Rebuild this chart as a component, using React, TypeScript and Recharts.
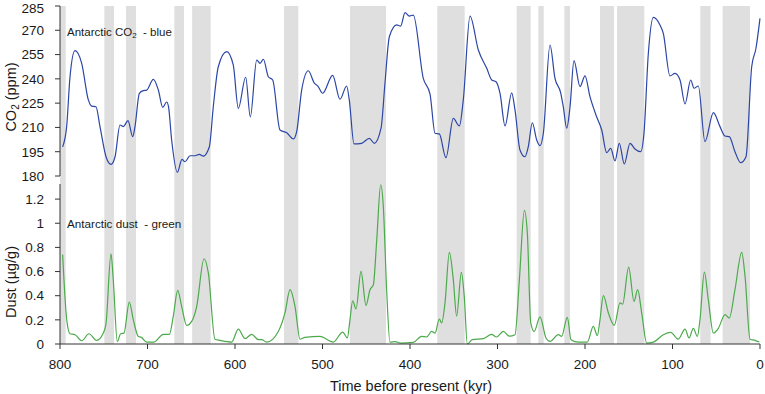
import React from 'react';
import { Line, LineChart, ReferenceArea, XAxis, YAxis } from 'recharts';

// CO2 record (kyr before present, ppm)
const co2Kyr = [
  797, 792.4, 788.6, 782.9, 775.2, 767.6, 763.8, 758.9, 754.3, 747.4, 741.7, 737.1, 731.4, 727.6, 722.3,
  716.9, 714.3, 709.3, 704.8, 701, 693.3, 687.6, 682.6, 678.1, 676, 672.4, 665.9, 660.6, 657.1, 651.4,
  645.7, 640.8, 636.2, 629.3, 624.8, 619.1, 609.5, 602, 596.2, 587.8, 582.5, 575.2, 571.4, 567.6, 561.9,
  556.9, 548.6, 540.9, 533.3, 529.5, 523.8, 516.2, 509.3, 505.5, 499.8, 488.4, 480, 472.4, 469.4, 464,
  455.2, 446.5, 440.8, 433.1, 428.6, 423.6, 415.2, 410.7, 405.7, 400.8, 396.2, 384.8, 377.1, 371.4, 366.5,
  358.9, 350.5, 343.6, 339.1, 331.4, 321.9, 312.3, 306.6, 301.7, 297.1, 291.4, 283.8, 280, 274.3, 268.6,
  264.8, 260.2, 255.2, 251.4, 247.6, 240, 234.3, 227.8, 224.8, 220.9, 217.1, 212.6, 205.7, 200, 194.3,
  186.7, 180.9, 175.2, 170.6, 165.7, 160.8, 155.1, 148.6, 142.9, 136.4, 132.6, 127.6, 121.9, 114.3, 110.5,
  102.9, 97.1, 91.4, 85.7, 79.2, 75.4, 70.5, 62.9, 53.3, 45.7, 40, 35.1, 28.6, 22.1, 16,
  9.5, 4.6, 0,
];
const co2Ppm = [
  198, 210.5, 241, 257.4, 249.6, 227, 223.2, 222.8, 210.5, 191.9, 187.2, 191.9, 211.5, 210.5, 214.2,
  204.3, 210.5, 231.1, 232.7, 233, 239.7, 233.1, 222.4, 225.7, 222.8, 202.2, 182.3, 190.3, 188.8, 192.5,
  192.5, 193.4, 192.3, 198.1, 222.8, 247.5, 256.8, 248.6, 221.8, 241, 216.5, 251.6, 249.6, 252.1, 241.3,
  239.3, 208.4, 206.7, 202.9, 207.4, 233.1, 245, 237.3, 235.7, 231.1, 242.2, 227.4, 235.6, 227, 199.8,
  200.2, 203.3, 200.2, 209.5, 237.3, 266, 273.3, 272.6, 280.9, 278.8, 279.4, 240.3, 230.6, 206.4, 206,
  191.3, 215.6, 210.9, 227, 278.8, 257.8, 246.5, 239.3, 238.2, 231, 210.9, 231.4, 220.8, 196.1, 191.9,
  198.1, 212.9, 202.2, 198.7, 206.4, 260.9, 240.3, 231.4, 222.8, 209.5, 222.8, 251.2, 235.2, 241.8, 229,
  216.6, 208.4, 194.4, 197.1, 189.3, 200.2, 187.4, 200.2, 196.7, 195, 206.4, 255.8, 278, 273.3, 268.1,
  241.8, 243.4, 239.3, 224.5, 239.3, 234.2, 235.6, 201.2, 219.1, 210.5, 204.7, 204.3, 195, 188.2, 191.9,
  247.5, 258.9, 277.4,
];

// dust record (kyr before present, µg/g)
const dustKyr = [
  797, 792.3, 788.6, 782.9, 775.2, 766.9, 758.1, 750.5, 747.4, 741.7, 739.1, 734.5, 730.7, 726.9, 720.8,
  716.2, 710.5, 707, 701, 692.6, 681.9, 675, 670.5, 665.5, 660.9, 655.2, 649.5, 643.8, 635.4, 630.5,
  622.9, 617, 603.8, 596.2, 588.6, 580.9, 573.3, 569.5, 563.8, 550.5, 542.9, 537.1, 531.4, 525.7, 520,
  502.9, 487.6, 476.9, 471.6, 468.6, 465.5, 461.7, 456, 450.3, 445.7, 441.9, 438, 433.5, 430.5, 426.7,
  422.9, 417, 411.4, 396.2, 386.7, 381, 375.2, 371.4, 366.5, 363.8, 360, 355, 350.5, 346.7, 341.3,
  338, 334.5, 328.8, 316.2, 306.7, 301.1, 293.3, 286.5, 280, 275, 269.3, 265.9, 262, 258.1, 251.4,
  244.6, 240, 230.5, 226.7, 220.2, 216, 207.6, 197.3, 190.5, 185.9, 182.9, 179, 173.3, 166.5, 160,
  157, 150.1, 144, 139.8, 135.2, 129.5, 121.9, 110.5, 102.1, 93.3, 85.7, 81.1, 76.2, 71.6, 68.6,
  63.6, 59.1, 53.3, 47.6, 40, 35.1, 28.6, 20.9, 17.1, 11.4, 5.7, 0.8,
];
const dustVal = [
  0.74, 0.2, 0.085, 0.077, 0.027, 0.085, 0.03, 0.091, 0.17, 0.747, 0.53, 0.02, 0.085, 0.09, 0.347,
  0.2, 0.063, 0.055, 0.016, 0.016, 0.08, 0.08, 0.23, 0.444, 0.31, 0.154, 0.187, 0.31, 0.706, 0.59,
  0.04, 0.03, 0.016, 0.124, 0.044, 0.08, 0.036, 0.036, 0.016, 0.104, 0.257, 0.45, 0.31, 0.04, 0.055,
  0.063, 0.016, 0.099, 0.05, 0.2, 0.358, 0.29, 0.601, 0.32, 0.45, 0.49, 0.863, 1.319, 1.14, 0.45,
  0.016, 0.02, 0.008, 0.014, 0.063, 0.058, 0.104, 0.09, 0.207, 0.174, 0.34, 0.758, 0.532, 0.23, 0.593,
  0.394, 0.0, 0.036, 0.044, 0.08, 0.058, 0.104, 0.065, 0.077, 0.532, 1.106, 0.919, 0.174, 0.104, 0.224,
  0.05, 0.022, 0.077, 0.063, 0.22, 0.036, 0.016, 0.016, 0.146, 0.07, 0.2, 0.4, 0.257, 0.154, 0.34,
  0.33, 0.637, 0.353, 0.45, 0.257, 0.008, 0.016, 0.077, 0.096, 0.04, 0.124, 0.05, 0.13, 0.063, 0.2,
  0.596, 0.367, 0.091, 0.13, 0.243, 0.215, 0.45, 0.758, 0.56, 0.04, 0.03, 0.016,
];

// shaded intervals (kyr)
const bandStart = [800, 749.3, 724.6, 669.3, 649, 544, 468.6, 368.8, 278.1, 253.3, 223.6, 182.9, 163.4, 68.2, 42.7];
const bandEnd = [793.5, 738.3, 713.1, 658.3, 627.8, 527.6, 427.4, 337.5, 262.1, 247.2, 217.1, 166.9, 132.2, 56.5, 11.4];

const kyrTicks = [0, 100, 200, 300, 400, 500, 600, 700, 800];
const co2Ticks = [180, 195, 210, 225, 240, 255, 270, 285];
const dustTicks = [0, 0.2, 0.4, 0.6, 0.8, 1, 1.2];

const co2Data = co2Kyr.map((kyr, i) => ({ kyr, co2: co2Ppm[i] }));
const dustData = dustKyr.map((kyr, i) => ({ kyr, dust: dustVal[i] }));

const FONT = '"Liberation Sans", Arial, sans-serif';
const AXIS = '#333';
const BAND = '#dfdfdf';
const tick = { fontSize: 13.5, fill: '#1a1a1a', fontFamily: FONT };

export default function App() {
  return (
    <div style={{ position: 'absolute', left: 0, top: 0, width: 765, height: 394, background: '#fff', fontFamily: FONT }}>
      <div style={{ position: 'absolute', left: 0, top: 0 }}>
        <LineChart width={765} height={192} data={co2Data} margin={{ top: 6, right: 5, bottom: 16, left: 0 }}>
          <XAxis dataKey="kyr" type="number" domain={[0, 800]} reversed hide />
          <YAxis
            domain={[180, 285]}
            ticks={co2Ticks}
            width={60}
            tick={tick}
            tickSize={5}
            tickMargin={11}
            axisLine={{ stroke: AXIS }}
            tickLine={{ stroke: AXIS }}
          />
          {bandStart.map((s, i) => (
            <ReferenceArea
              key={i}
              x1={s}
              x2={bandEnd[i]}
              y1={175}
              y2={285}
              ifOverflow="visible"
              fill={BAND}
              fillOpacity={1}
              stroke="none"
            />
          ))}
          <Line
            type="monotone"
            dataKey="co2"
            stroke="#2c46a6"
            strokeWidth={1.2}
            dot={false}
            isAnimationActive={false}
          />
        </LineChart>
      </div>

      <div style={{ position: 'absolute', left: 0, top: 0 }}>
        <LineChart width={765} height={394} data={dustData} margin={{ top: 184, right: 5, bottom: 0, left: 0 }}>
          <XAxis
            dataKey="kyr"
            type="number"
            domain={[0, 800]}
            reversed
            ticks={kyrTicks}
            height={50}
            tick={tick}
            tickSize={5}
            tickMargin={10}
            axisLine={{ stroke: AXIS }}
            tickLine={{ stroke: AXIS }}
          />
          <YAxis
            domain={[0, 1.325]}
            ticks={dustTicks}
            width={60}
            tick={tick}
            tickSize={5}
            tickMargin={11}
            axisLine={{ stroke: AXIS }}
            tickLine={{ stroke: AXIS }}
          />
          {bandStart.map((s, i) => (
            <ReferenceArea
              key={i}
              x1={s}
              x2={bandEnd[i]}
              y1={0}
              y2={1.325}
              fill={BAND}
              fillOpacity={1}
              stroke="none"
            />
          ))}
          <Line
            type="monotone"
            dataKey="dust"
            stroke="#4caa4c"
            strokeWidth={1.2}
            dot={false}
            isAnimationActive={false}
          />
        </LineChart>
      </div>

      <svg width={765} height={394} style={{ position: 'absolute', left: 0, top: 0, pointerEvents: 'none' }}>
        <g fontFamily={FONT} fill="#1a1a1a">
          <text transform="translate(15.5,97) rotate(-90)" textAnchor="middle" fontSize={14.5}>
            CO<tspan fontSize={10} dy={3}>2</tspan>
            <tspan dy={-3}> (ppm)</tspan>
          </text>
          <text transform="translate(15.5,282) rotate(-90)" textAnchor="middle" fontSize={14.5}>
            Dust (µg/g)
          </text>
          <text x={411} y={391} textAnchor="middle" fontSize={14.5}>
            Time before present (kyr)
          </text>
          <text x={67} y={35.5} fontSize={11.5} style={{ whiteSpace: 'pre' }}>
            Antarctic CO<tspan fontSize={8} dy={2}>2</tspan>
            <tspan dy={-2}>{'  - blue'}</tspan>
          </text>
          <text x={67} y={228} fontSize={11.7} style={{ whiteSpace: 'pre' }}>
            {'Antarctic dust  - green'}
          </text>
        </g>
      </svg>
    </div>
  );
}
